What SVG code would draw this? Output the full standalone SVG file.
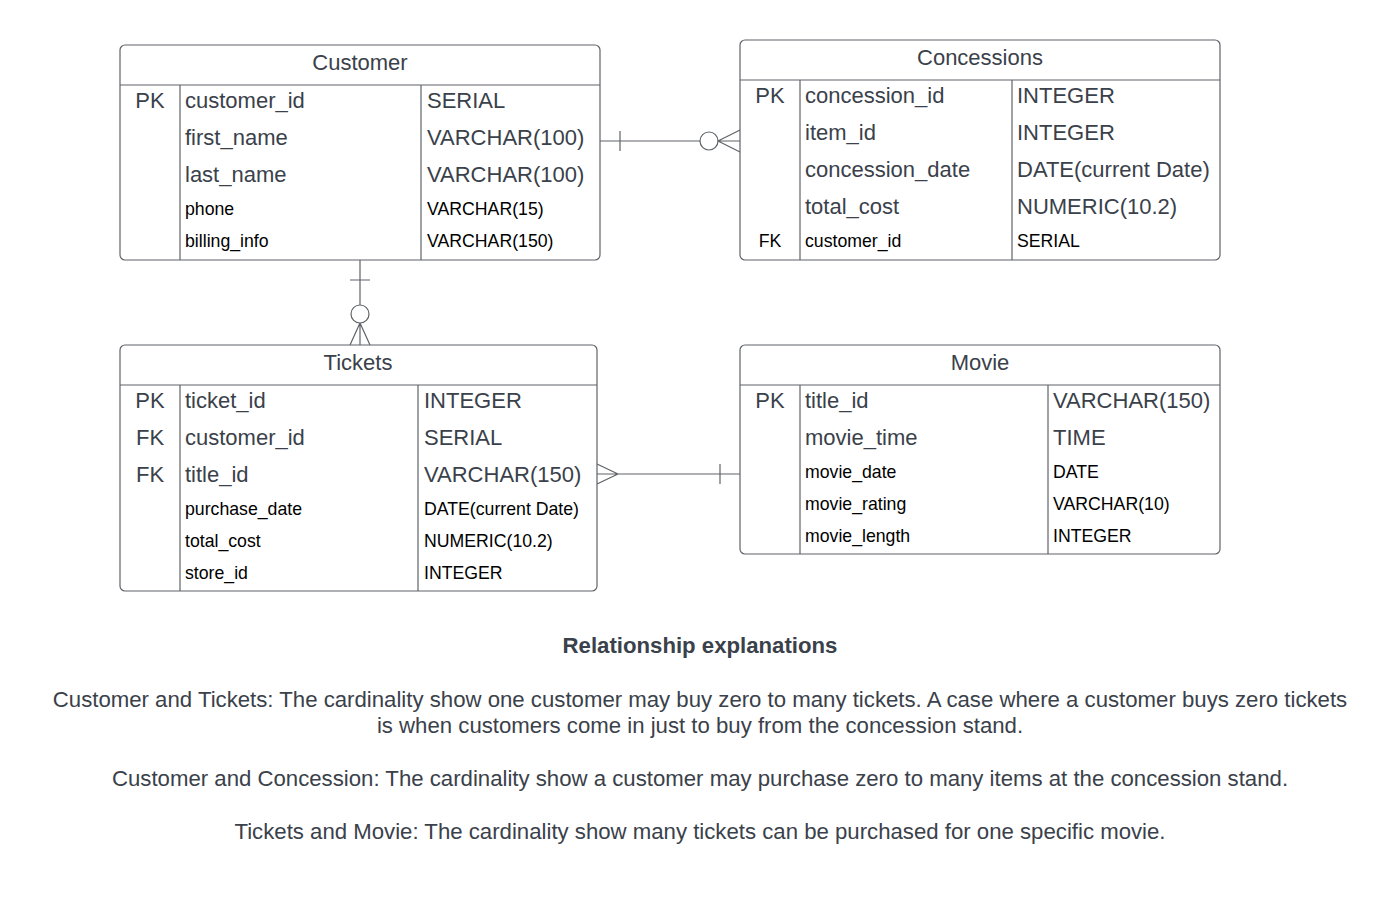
<svg xmlns="http://www.w3.org/2000/svg" width="1400" height="922" viewBox="0 0 1400 922">
<style>
text{font-family:"Liberation Sans",Arial,sans-serif;}
.box{fill:#fff;stroke:#5f6368;stroke-width:1.2;}
.ln{stroke:#5f6368;stroke-width:1.2;fill:none;}
.hd{font-size:22px;fill:#3a414a;text-anchor:middle;}
.lg{font-size:22px;fill:#3a414a;}
.sm{font-size:17.7px;fill:#000;}
.c{text-anchor:middle;}
.ex{font-size:22.2px;fill:#3a414a;text-anchor:middle;}
.cn{stroke:#5f6368;stroke-width:1.2;fill:none;}
</style>
<rect width="1400" height="922" fill="#fff"/>
<g id="customer">
<rect class="box" x="120" y="45" width="480" height="215" rx="5"/>
<line class="ln" x1="120" y1="85" x2="600" y2="85"/>
<line class="ln" x1="180" y1="85" x2="180" y2="260"/>
<line class="ln" x1="421" y1="85" x2="421" y2="260"/>
<text class="hd" x="360" y="70">Customer</text>
<text class="lg c" x="150" y="108">PK</text>
<text class="lg" x="185" y="108">customer_id</text><text class="lg" x="427" y="108">SERIAL</text>
<text class="lg" x="185" y="145">first_name</text><text class="lg" x="427" y="145">VARCHAR(100)</text>
<text class="lg" x="185" y="182">last_name</text><text class="lg" x="427" y="182">VARCHAR(100)</text>
<text class="sm" x="185" y="215">phone</text><text class="sm" x="427" y="215">VARCHAR(15)</text>
<text class="sm" x="185" y="247">billing_info</text><text class="sm" x="427" y="247">VARCHAR(150)</text>
</g>
<g id="concessions">
<rect class="box" x="740" y="40" width="480" height="220" rx="5"/>
<line class="ln" x1="740" y1="80" x2="1220" y2="80"/>
<line class="ln" x1="800" y1="80" x2="800" y2="260"/>
<line class="ln" x1="1012" y1="80" x2="1012" y2="260"/>
<text class="hd" x="980" y="65">Concessions</text>
<text class="lg c" x="770" y="103">PK</text>
<text class="lg" x="805" y="103">concession_id</text><text class="lg" x="1017" y="103">INTEGER</text>
<text class="lg" x="805" y="140">item_id</text><text class="lg" x="1017" y="140">INTEGER</text>
<text class="lg" x="805" y="177">concession_date</text><text class="lg" x="1017" y="177">DATE(current Date)</text>
<text class="lg" x="805" y="214">total_cost</text><text class="lg" x="1017" y="214">NUMERIC(10.2)</text>
<text class="sm c" x="770" y="247">FK</text>
<text class="sm" x="805" y="247">customer_id</text><text class="sm" x="1017" y="247">SERIAL</text>
</g>
<g id="tickets">
<rect class="box" x="120" y="345" width="477" height="246" rx="5"/>
<line class="ln" x1="120" y1="385" x2="597" y2="385"/>
<line class="ln" x1="180" y1="385" x2="180" y2="591"/>
<line class="ln" x1="418" y1="385" x2="418" y2="591"/>
<text class="hd" x="358" y="370">Tickets</text>
<text class="lg c" x="150" y="408">PK</text>
<text class="lg" x="185" y="408">ticket_id</text><text class="lg" x="424" y="408">INTEGER</text>
<text class="lg c" x="150" y="445">FK</text>
<text class="lg" x="185" y="445">customer_id</text><text class="lg" x="424" y="445">SERIAL</text>
<text class="lg c" x="150" y="482">FK</text>
<text class="lg" x="185" y="482">title_id</text><text class="lg" x="424" y="482">VARCHAR(150)</text>
<text class="sm" x="185" y="515">purchase_date</text><text class="sm" x="424" y="515">DATE(current Date)</text>
<text class="sm" x="185" y="547">total_cost</text><text class="sm" x="424" y="547">NUMERIC(10.2)</text>
<text class="sm" x="185" y="579">store_id</text><text class="sm" x="424" y="579">INTEGER</text>
</g>
<g id="movie">
<rect class="box" x="740" y="345" width="480" height="209" rx="5"/>
<line class="ln" x1="740" y1="385" x2="1220" y2="385"/>
<line class="ln" x1="800" y1="385" x2="800" y2="554"/>
<line class="ln" x1="1048" y1="385" x2="1048" y2="554"/>
<text class="hd" x="980" y="370">Movie</text>
<text class="lg c" x="770" y="408">PK</text>
<text class="lg" x="805" y="408">title_id</text><text class="lg" x="1053" y="408">VARCHAR(150)</text>
<text class="lg" x="805" y="445">movie_time</text><text class="lg" x="1053" y="445">TIME</text>
<text class="sm" x="805" y="478">movie_date</text><text class="sm" x="1053" y="478">DATE</text>
<text class="sm" x="805" y="510">movie_rating</text><text class="sm" x="1053" y="510">VARCHAR(10)</text>
<text class="sm" x="805" y="542">movie_length</text><text class="sm" x="1053" y="542">INTEGER</text>
</g>
<g id="connectors">
<path class="cn" d="M600 141 H700 M620 131 V151"/>
<circle class="cn" cx="709" cy="141" r="9"/>
<path class="cn" d="M718 141 H740 M718 141 L740 130 M718 141 L740 152"/>
<path class="cn" d="M360 260 V305 M350 280 H370"/>
<circle class="cn" cx="360" cy="314" r="9"/>
<path class="cn" d="M360 323 V345 M360 323 L350 345 M360 323 L370 345"/>
<path class="cn" d="M597 474 H740 M618 474 L597 464 M618 474 L597 484 M720 464 V484"/>
</g>
<g id="explanations">
<text class="ex" x="700" y="653" font-weight="bold">Relationship explanations</text>
<text class="ex" x="700" y="707">Customer and Tickets: The cardinality show one customer may buy zero to many tickets. A case where a customer buys zero tickets</text>
<text class="ex" x="700" y="733">is when customers come in just to buy from the concession stand.</text>
<text class="ex" x="700" y="786">Customer and Concession: The cardinality show a customer may purchase zero to many items at the concession stand.</text>
<text class="ex" x="700" y="839">Tickets and Movie: The cardinality show many tickets can be purchased for one specific movie.</text>
</g>
</svg>
